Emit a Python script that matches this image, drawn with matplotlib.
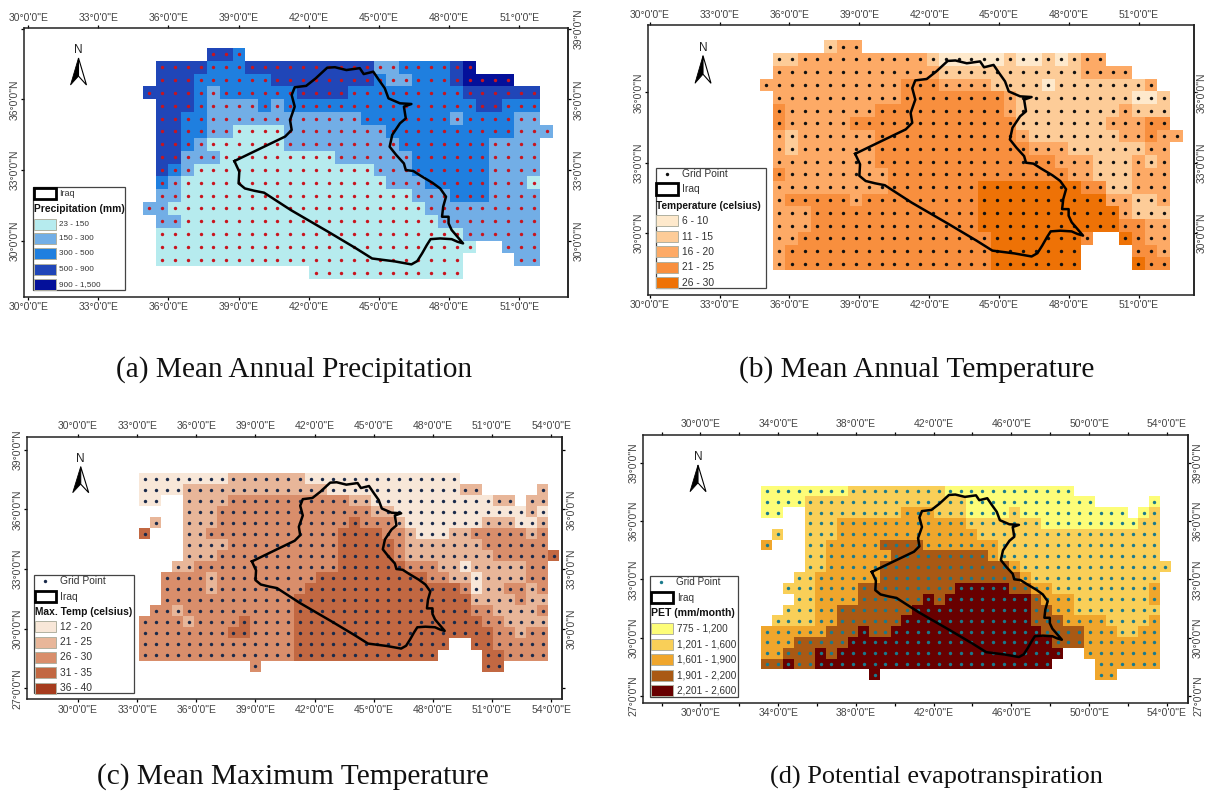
import numpy as np
import matplotlib
matplotlib.use('Agg')
import matplotlib.pyplot as plt
from matplotlib.colors import ListedColormap
from matplotlib.patches import Rectangle, Polygon

plt.rcParams['font.family'] = ['Liberation Sans', 'DejaVu Sans']

# class of each grid cell, north to south, "c*n" = n cells of class c, "." = no data
precip_rows = [
    ".*5 44 3",
    ". 4*4 3*3 4*10 22 3*4 4 5",
    ". 4*3 3*6 4*8 3 22 3*3 4 5*4",
    "4*4 3 2 3*6 4*4 3*9 4*6",
    ". 4*3 3 2*4 3 2 3*15 44 3*3",
    ". 44 33 2*12 3*7 2 3*4 22",
    ". 44 33 22 1*4 2*8 3*10 2*3",
    ". 44 3 2 1*6 2*9 3*7 2*4",
    ". 44 2*3 1*9 2*6 3*6 2*4",
    ". 4 3 2 1*14 2*3 3*6 2*4",
    ". 3 2 1*16 2*3 3*5 2*3 1",
    ". 22 1*18 2*3 3*3 2*4",
    "22 1*20 2*9",
    ". 22 1*20 2*8",
    ". 1*24 2*6",
    ". 1*25 .*2 2*3",
    ". 1*24 .*4 22",
    ".*13 1*12",
]
temp_rows = [
    ".*5 2 33",
    ". 22 3*10 2 1*5 2 11 2 1 2 33",
    ". 3*13 2*11 3*4",
    "3*11 4*3 3*4 2*4 1 2*7 3",
    ". 3*10 4*8 3 2*9 11 2",
    ". 4 3*7 4*10 3 2*8 3 2*3",
    ". 4 3*5 4*13 2*7 3*3 44",
    ". 3 2 3*6 4*11 3 2*7 33 4 33",
    ". 3 2 3*6 4*12 3*3 2*6 33",
    ". 3*8 4*14 3*3 2*3 3 2 3",
    ". 4 3*8 4*14 33 2*3 3*3",
    ". 3*9 4*7 5*8 44 22 3*3",
    ". 3 4*5 3 4*9 5*10 33 22 3",
    ". 3*3 4*13 5*11 3 2*3",
    ". 3*3 4*13 5*11 44 33",
    ". 33 4*15 5*7 4 .*2 5 4 33",
    ". 3 4*16 5*7 .*4 44 3",
    ". 3 4*16 5*7 .*4 5 44",
]
maxtemp_rows = [
    "1*8 2*7 1*14",
    "1*4 2*13 1*12 22 .*5 2",
    "11 .*2 2*4 3*11 22 1*11 22 . 22",
    ".*4 2*3 3*14 22 1*12 2 1",
    ". 2 .*2 2*3 3*12 4 3*3 2 1*7 2*3 11 2",
    "4 .*3 22 3*12 4*4 33 2 1*3 22 3*5 2 3",
    ".*4 2*4 3*10 4*5 3 2*7 3*6",
    ".*4 2*3 3*11 4*5 3 2*8 3*5 4",
    ".*3 22 3*13 4*6 3*3 22 1 2*5 33",
    ".*2 3*4 2 3*9 4*10 33 22 1 2*4 33",
    ".*2 3*4 2 3*8 4*14 3 1 22 33 2 3",
    ".*2 3*12 4*16 2*4 3 22",
    ". 33 2 3*10 4*16 33 2*4 3",
    "3*4 2 3*4 4 3*4 4*17 33 2*4",
    "3*8 44 3*4 4*18 33 2 33",
    "3*14 4*14 .*2 44 3*5",
    "3*14 4*13 .*4 44 3*4",
    ".*10 3 .*20 44",
]
pet_rows = [
    "1*8 2*9 1*12",
    "1*4 2*15 1*12 .*5 1",
    "11 .*2 2*9 3*3 2*3 1*4 2 1*10 . 1 2",
    ".*4 2*3 3*12 2*7 1*9 22",
    ". 2 .*2 2*3 3*13 2*17",
    "3 .*3 22 3*5 4*4 3*7 2*15",
    ".*4 22 3*6 4*9 3 2*15",
    ".*4 22 3*5 4*12 3 2*14",
    ".*3 22 3*6 4*13 3 2*12",
    ".*2 2*3 3*4 4*9 5*5 44 33 2*9 3",
    ".*3 22 3*4 4*6 5 4 5*8 4 3*3 2*7 3",
    ".*2 2*3 33 4*7 5*11 44 33 2*8",
    ". 2*4 33 4*6 5*12 4*3 3*4 2*4 3",
    "3*6 4*3 5 44 5*14 4*4 3*3 22 33",
    "3*3 4*5 5*19 4*3 3*7",
    "33 4*3 5 4 5*21 .*2 3*7",
    "44 5 44 5*22 .*4 3*6",
    ".*10 5 .*20 33",
]

# Iraq border, degrees
iraq_lon = [38.82, 39.03, 39.00, 39.27, 39.68, 40.09, 41.24, 42.87, 44.02, 44.71, 45.66, 46.39, 46.64, 46.85,
            47.05, 47.21, 47.62, 48.11, 48.36, 48.60, 48.36, 48.11, 47.98, 47.98, 47.70, 47.75, 47.87, 47.62,
            47.29, 46.80, 46.47, 46.15, 46.07, 45.74, 45.46, 45.57, 45.90, 46.15, 46.07, 46.39, 45.90, 45.41,
            45.25, 45.00, 44.76, 44.35, 44.18, 43.61, 43.12, 42.79, 42.30, 41.89, 41.40, 41.27, 41.40, 41.20,
            41.27, 40.99, 40.09, 38.82]
iraq_lat = [33.38, 32.93, 32.44, 32.22, 32.12, 32.04, 31.30, 30.36, 29.68, 29.25, 29.13, 29.00, 29.14, 29.47,
            29.82, 30.07, 30.10, 30.07, 29.96, 29.89, 30.17, 30.46, 30.74, 31.02, 31.02, 31.45, 31.87, 32.22,
            32.46, 32.75, 32.96, 33.00, 33.28, 33.64, 33.99, 34.49, 34.98, 35.19, 35.69, 35.80, 35.83, 36.04,
            36.47, 36.82, 37.17, 37.07, 37.32, 37.24, 37.36, 37.34, 36.89, 36.57, 36.51, 36.18, 35.69, 35.12,
            34.70, 34.42, 33.99, 33.38]

panels = [
    dict(rows=precip_rows, colors=['#B6EBEE', '#72AEE6', '#1F7FDF', '#2046B8', '#04109A'], dot='#C8141E',
         frame=(23.7, 28.3, 568.3, 296.7), xlim=(29.81, 53.1), ylim=(27.63, 39.01),
         lon0=35.18, dlon=0.548, lat0=37.91, dlat=0.545,
         xticks=range(30, 54, 3), xlabels=range(30, 54, 3),
         yticks=[30, 33, 36, 39], left=[30, 33, 36], right=[30, 33, 36, 39], right_pad=1.5,
         title='Precipitation (mm)', classes=['23 - 150', '150 - 300', '300 - 500', '500 - 900', '900 - 1,500'],
         caption='(a) Mean Annual Precipitation', cap_xy=(294, 370), cap_size=21.2, north=(78.5, 50, 58, 85),
         box=(33.3, 187.3, 124.8, 290), grid_y=None, iraq_y=(187.7, 198.7), title_y=209.3, text_x=59.3,
         swatch_x=(34.4, 56.3), swatch_y=[219, 233.3, 248.3, 263.7, 279], size=5.9, iraq_size=6.5, title_size=7.4),
    dict(rows=temp_rows, colors=['#FEE9CC', '#FDCC98', '#FDAA66', '#F88F3E', '#EE7206'], dot='#101010',
         frame=(648, 25.3, 1194, 294.7), xlim=(29.93, 53.36), ylim=(27.37, 38.86),
         lon0=35.0, dlon=0.5506, lat0=37.95, dlat=0.545,
         xticks=range(30, 54, 3), xlabels=range(30, 54, 3),
         yticks=[30, 33, 36], left=[30, 33, 36], right=[30, 33, 36], right_pad=-0.6,
         title='Temperature (celsius)', classes=['6 - 10', '11 - 15', '16 - 20', '21 - 25', '26 - 30'],
         caption='(b) Mean Annual Temperature', cap_xy=(917, 370), cap_size=21.2, north=(703, 47.7, 55.7, 83.3),
         box=(655.6, 167.7, 766.3, 288.3), grid_y=173.7, iraq_y=(183, 194.7), title_y=205.7, text_x=682,
         swatch_x=(656, 678), swatch_y=[215.3, 231, 246.3, 262, 277.3], dot_x=667, grid_x=681.5,
         size=7.4, iraq_size=7.4, title_size=7.3),
    dict(rows=maxtemp_rows, colors=['#F8E7D8', '#E8B699', '#D98E6B', '#C26842', '#A63C1E'], dot='#1A2A4A',
         frame=(26.8, 436.7, 561.8, 699.3), xlim=(27.4, 54.54), ylim=(26.45, 39.65),
         lon0=33.38, dlon=0.561, lat0=37.54, dlat=0.554,
         xticks=range(30, 57, 3), xlabels=range(30, 57, 3),
         yticks=[27, 30, 33, 36, 39], left=[27, 30, 33, 36, 39], right=[30, 33, 36], right_pad=1.5,
         title='Max. Temp (celsius)', classes=['12 - 20', '21 - 25', '26 - 30', '31 - 35', '36 - 40'],
         caption='(c) Mean Maximum Temperature', cap_xy=(293, 777), cap_size=21.2, north=(80.7, 459, 466.7, 492.7),
         box=(34.4, 575.3, 134, 693.3), grid_y=581, iraq_y=(591, 601.7), title_y=612, text_x=60,
         swatch_x=(34.8, 56.3), swatch_y=[621.3, 636.7, 652, 667.3, 682.7], dot_x=45.2, grid_x=60,
         size=7.4, iraq_size=7.4, title_size=7.4),
    dict(rows=pet_rows, colors=['#FDFD78', '#F9CF58', '#F0A62C', '#A95914', '#680000'], dot='#1A7A8C',
         frame=(642.7, 434.7, 1188, 702.7), xlim=(27.03, 55.09), ylim=(26.65, 40.44),
         lon0=33.42, dlon=0.554, lat0=37.54, dlat=0.556,
         xticks=range(28, 56, 2), xlabels=range(30, 56, 4),
         yticks=[27, 30, 33, 36, 39], left=[27, 30, 33, 36, 39], right=[27, 30, 33, 36, 39], right_pad=1.5,
         title='PET (mm/month)', classes=['775 - 1,200', '1,201 - 1,600', '1,601 - 1,900', '1,901 - 2,200', '2,201 - 2,600'],
         caption='(d) Potential evapotranspiration', cap_xy=(936, 777), cap_size=18.9, north=(698, 457, 465, 491.7),
         box=(650.3, 576.3, 738, 696.7), grid_y=582, iraq_y=(591.7, 602.7), title_y=613.3, text_x=677,
         swatch_x=(650.7, 672.7), swatch_y=[623.3, 638.7, 654.3, 670, 685.3], dot_x=661.3, grid_x=676.5,
         size=7.2, iraq_size=7.2, title_size=7.6),
]

W, H = 1206, 792


def expand(rows):
    width = 0
    out = []
    for row in rows:
        cells = ''
        for tok in row.split():
            c, _, n = tok.partition('*')
            cells += c * int(n) if n else c
        out.append(cells)
        width = max(width, len(cells))
    grid = np.full((len(out), width), np.nan)
    for i, cells in enumerate(out):
        for j, c in enumerate(cells):
            if c != '.':
                grid[i, j] = int(c)
    return grid


fig = plt.figure(figsize=(W / 100, H / 100), dpi=100, facecolor='white')

# overlay in picture pixels, for the legends and north arrows
over = fig.add_axes([0, 0, 1, 1], zorder=5)
over.set_xlim(0, W)
over.set_ylim(H, 0)
over.axis('off')

for p in panels:
    x0, y0, x1, y1 = p['frame']
    ax = fig.add_axes([x0 / W, 1 - y1 / H, (x1 - x0) / W, (y1 - y0) / H])
    grid = expand(p['rows'])
    nrow, ncol = grid.shape
    lon = p['lon0'] + p['dlon'] * np.arange(ncol)
    lat = p['lat0'] - p['dlat'] * np.arange(nrow)
    lon_e = p['lon0'] - p['dlon'] / 2 + p['dlon'] * np.arange(ncol + 1)
    lat_e = p['lat0'] + p['dlat'] / 2 - p['dlat'] * np.arange(nrow + 1)
    cmap = ListedColormap(p['colors'])
    ax.pcolormesh(lon_e, lat_e, np.ma.masked_invalid(grid), cmap=cmap, vmin=0.5, vmax=5.5,
                  shading='flat', antialiased=False)
    lo, la = np.meshgrid(lon, lat)
    has = ~np.isnan(grid)
    ax.scatter(lo[has], la[has], s=6, color=p['dot'], linewidths=0, zorder=3)
    ax.plot(iraq_lon, iraq_lat, color='black', lw=1.8, zorder=4, solid_joinstyle='round')
    ax.set_xlim(*p['xlim'])
    ax.set_ylim(*p['ylim'])

    xt = list(p['xticks'])
    xlab = ['%d°0\'0"E' % v if v in p['xlabels'] else '' for v in xt]
    ax.set_xticks(xt, xlab)
    ax.tick_params(axis='x', top=True, labeltop=True, length=2.2, width=0.9, pad=1.8, labelsize=7.5, labelcolor='#444444')
    yt = list(p['yticks'])
    ax.set_yticks(yt, ['%d°0\'0"N' % v if v in p['left'] else '' for v in yt], rotation=90, va='center')
    ax.tick_params(axis='y', length=2.2, width=0.9, pad=0.8, labelsize=7.5, labelcolor='#444444')
    sec = ax.secondary_yaxis('right')
    sec.set_yticks(yt, ['%d°0\'0"N' % v if v in p['right'] else '' for v in yt], rotation=90, va='center')
    sec.tick_params(axis='y', length=2.2, width=0.9, pad=p['right_pad'], labelsize=7.5, labelcolor='#444444')
    for s in list(ax.spines.values()) + list(sec.spines.values()):
        s.set_linewidth(1.1)
        s.set_color('#222222')

    # north arrow
    nx, ny, top, bot = p['north']
    over.text(nx, ny, 'N', ha='center', va='center', fontsize=8.5, color='#222222')
    notch = bot - (bot - top) * 0.33
    over.add_patch(Polygon([(nx, top), (nx - 8, bot), (nx, notch)], fc='black', ec='black', lw=0.6))
    over.add_patch(Polygon([(nx, top), (nx + 8, bot), (nx, notch)], fc='white', ec='black', lw=0.8))

    # legend
    bx0, by0, bx1, by1 = p['box']
    over.add_patch(Rectangle((bx0, by0), bx1 - bx0, by1 - by0, fc='white', ec='#444444', lw=0.9))
    sx0, sx1 = p['swatch_x']
    tx = p['text_x']
    if p['grid_y'] is not None:
        over.scatter([p['dot_x']], [p['grid_y']], s=6, color=p['dot'], linewidths=0)
        over.text(p['grid_x'], p['grid_y'], 'Grid Point', va='center', fontsize=p['size'], color='#333333')
    iy0, iy1 = p['iraq_y']
    over.add_patch(Rectangle((bx0 + 0.5, iy0), sx1 - bx0 - 0.5, iy1 - iy0, fc='white', ec='black', lw=2))
    over.text(tx, (iy0 + iy1) / 2 + 0.5, 'Iraq', va='center', fontsize=p['iraq_size'], color='#333333')
    over.text(bx0 + 0.5, p['title_y'], p['title'], va='center', fontsize=p['title_size'], fontweight='bold', color='#111111')
    sw_h = 11
    for sy, col, lab in zip(p['swatch_y'], p['colors'], p['classes']):
        over.add_patch(Rectangle((sx0, sy), sx1 - sx0, sw_h, fc=col, ec='#B0B0A0', lw=0.7))
        over.text(tx, sy + sw_h / 2, lab, va='center', fontsize=p['size'], color='#333333')

    over.text(p['cap_xy'][0], p['cap_xy'][1], p['caption'], ha='center', va='center', fontsize=p['cap_size'],
              family='Liberation Serif', color='#111111')

fig.savefig('out.png', dpi=100)
